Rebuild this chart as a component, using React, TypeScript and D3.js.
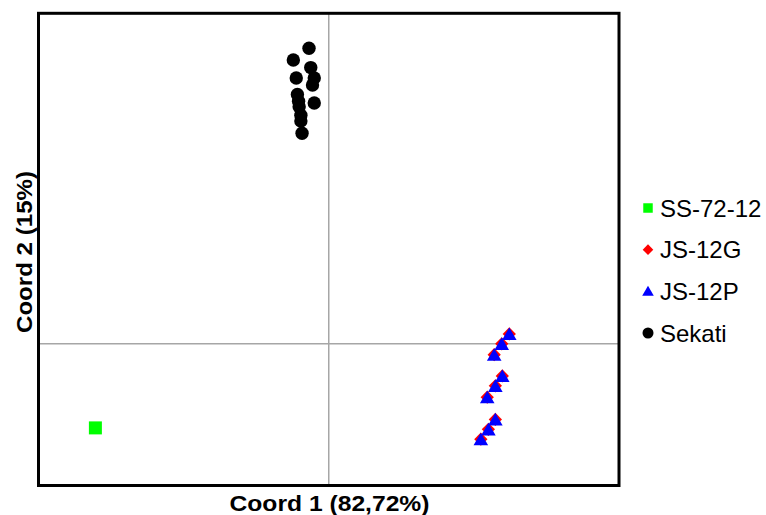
import * as d3 from 'd3'

const W = 766
const H = 515

// PCoA coordinates
const SS7212_X = [-0.402]
const SS7212_Y = [-0.178]

const JS12G_X = [0.311, 0.298, 0.285, 0.299, 0.287, 0.273, 0.287, 0.275, 0.262]
const JS12G_Y = [0.021, 0.000, -0.023, -0.068, -0.089, -0.113, -0.160, -0.181, -0.202]

const JS12P_X = [0.311, 0.298, 0.285, 0.299, 0.287, 0.273, 0.287, 0.275, 0.262]
const JS12P_Y = [0.017, -0.004, -0.027, -0.072, -0.093, -0.117, -0.164, -0.185, -0.206]

const SEKATI_X = [-0.034, -0.061, -0.031, -0.056, -0.025, -0.028, -0.054, -0.052, -0.025, -0.051, -0.048, -0.048, -0.046]
const SEKATI_Y = [0.626, 0.601, 0.585, 0.563, 0.563, 0.548, 0.528, 0.514, 0.510, 0.502, 0.484, 0.472, 0.446]

const LEGEND = ['SS-72-12', 'JS-12G', 'JS-12P', 'Sekati']
const X_TITLE = 'Coord 1 (82,72%)'
const Y_TITLE = 'Coord 2 (15%)'

const FONT = '"Liberation Sans", Arial, sans-serif'

const pts = (xs: number[], ys: number[]) => xs.map((x, i) => ({ x, y: ys[i] }))

export default function App() {
  const left = 38.5, right = 619, top = 13.3, bottom = 485.5
  const x = d3.scaleLinear().domain([-0.5, 0.5]).range([left, right])
  const y = d3.scaleLinear().domain([-0.3, 0.7]).range([bottom, top])

  const square = d3.symbol().type(d3.symbolSquare).size(169)()
  // diamond = square turned 45deg
  const diamond = d3.symbol().type(d3.symbolSquare).size(88)()
  const triangle = d3.symbol().type(d3.symbolTriangle).size(92)()

  const legSquare = d3.symbol().type(d3.symbolSquare).size(90)()
  const legDiamond = d3.symbol().type(d3.symbolSquare).size(56)()
  const legTriangle = d3.symbol().type(d3.symbolTriangle).size(58)()

  const legendY = d3.scalePoint().domain(LEGEND).range([208, 333])
  const legendMarks = [
    <path d={legSquare} fill="#00ff00" />,
    <path d={legDiamond} fill="#ff0000" transform="rotate(45)" />,
    <path d={legTriangle} fill="#0000ff" transform="translate(0,1)" />,
    <circle r={5.5} fill="#000" />,
  ]

  return (
    <svg width={W} height={H} style={{ position: 'absolute', left: 0, top: 0, background: '#fff' }}>
      <rect x={0} y={0} width={W} height={H} fill="#fff" />

      {/* zero lines */}
      <line x1={x(0)} x2={x(0)} y1={top} y2={bottom} stroke="#a6a6a6" strokeWidth={1.5} />
      <line x1={left} x2={right} y1={y(0)} y2={y(0)} stroke="#a6a6a6" strokeWidth={1.5} />

      {/* Sekati */}
      {pts(SEKATI_X, SEKATI_Y).map((d, i) => (
        <circle key={'s' + i} cx={x(d.x)} cy={y(d.y)} r={6.7} fill="#000" />
      ))}

      {/* SS-72-12 */}
      {pts(SS7212_X, SS7212_Y).map((d, i) => (
        <path key={'g' + i} d={square} transform={`translate(${x(d.x)},${y(d.y)})`} fill="#00ff00" />
      ))}

      {/* JS-12G under JS-12P */}
      {pts(JS12G_X, JS12G_Y).map((d, i) => (
        <path key={'r' + i} d={diamond} transform={`translate(${x(d.x)},${y(d.y)}) rotate(45)`} fill="#ff0000" />
      ))}
      {pts(JS12P_X, JS12P_Y).map((d, i) => (
        <path key={'b' + i} d={triangle} transform={`translate(${x(d.x)},${y(d.y)})`} fill="#0000ff" />
      ))}

      {/* frame */}
      <rect x={left} y={top} width={right - left} height={bottom - top} fill="none" stroke="#000" strokeWidth={3} />

      {/* axis titles */}
      <text x={329.5} y={511} textAnchor="middle" fontFamily={FONT} fontWeight="bold"
        fontSize={22} textLength={200} lengthAdjust="spacingAndGlyphs" fill="#000">{X_TITLE}</text>
      <text transform={`translate(31.5,252) rotate(-90)`} textAnchor="middle" fontFamily={FONT} fontWeight="bold"
        fontSize={22} textLength={162} lengthAdjust="spacingAndGlyphs" fill="#000">{Y_TITLE}</text>

      {/* legend */}
      {LEGEND.map((name, i) => (
        <g key={name} transform={`translate(648,${legendY(name)})`}>
          {legendMarks[i]}
          <text x={12} y={8.5} fontFamily={FONT} fontSize={24} fill="#000">{name}</text>
        </g>
      ))}
    </svg>
  )
}
